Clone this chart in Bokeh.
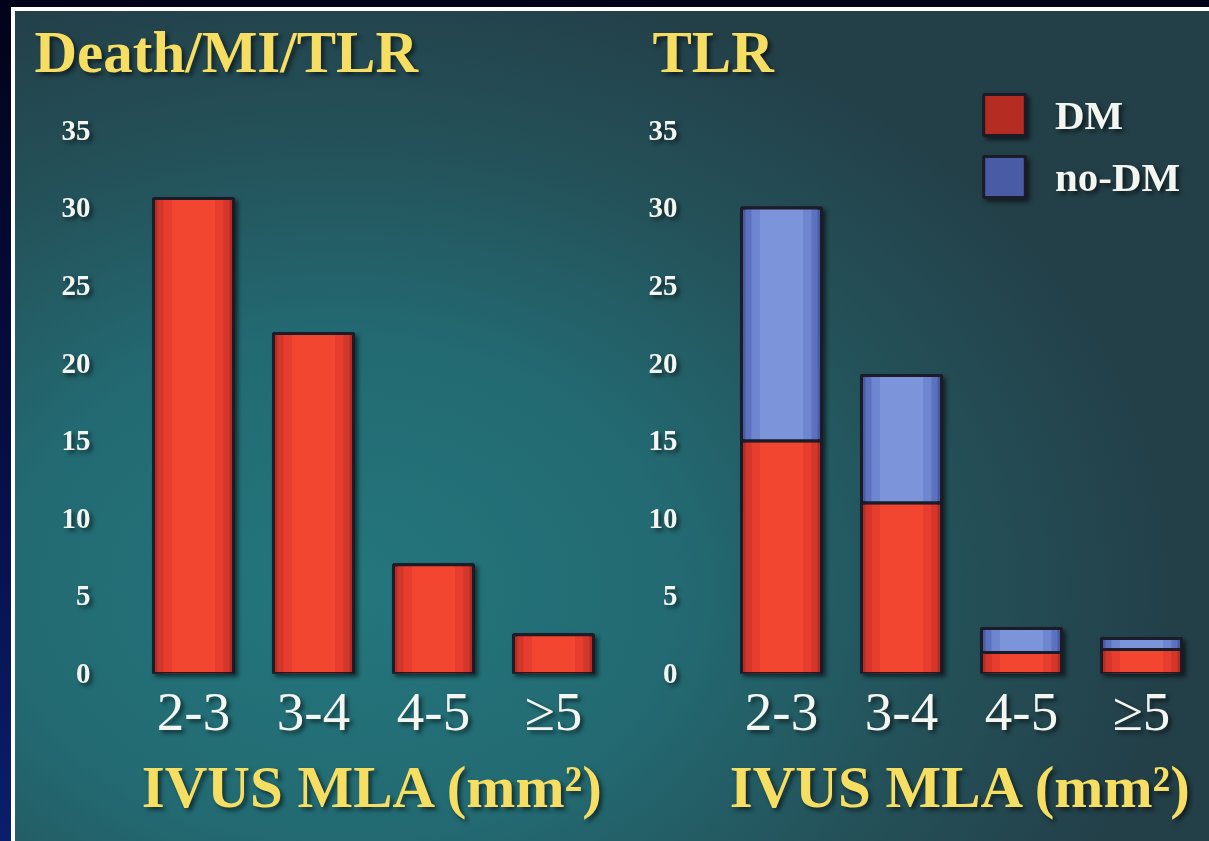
from bokeh.plotting import figure
from bokeh.layouts import row
from bokeh.models import (ColumnDataSource, FactorRange, Range1d, FixedTicker, Title,
                          Legend, LegendItem)
from bokeh.embed import file_html
from bokeh.resources import INLINE

# ---------------- data ----------------
categories = ["2-3", "3-4", "4-5", "≥5"]
death_mi_tlr = [30.6, 21.9, 7.0, 2.5]          # left panel (%)
tlr_dm = [15.0, 11.0, 1.35, 1.55]              # right panel, DM (%)
tlr_no_dm = [15.0, 8.2, 1.55, 0.7]             # right panel, no-DM (stacked on DM)
y_ticks = [0, 5, 10, 15, 20, 25, 30, 35]
left_title = "Death/MI/TLR"
right_title = "TLR"
x_title = "IVUS MLA (mm²)"

tlr_total = [a + b for a, b in zip(tlr_dm, tlr_no_dm)]

# ---------------- style ----------------
SERIF = "Liberation Serif"
YELLOW = "#f6de62"
WHITE = "#f2f5f0"
OUTLINE = "#1c1c28"
BW = 0.667
RED_LAYERS = [("#b42c22", BW), ("#d3362a", 0.60), ("#e63d2e", 0.50), ("#f24631", 0.36)]
BLUE_LAYERS = [("#4a5ba6", BW), ("#5d72bf", 0.60), ("#6e86cf", 0.50), ("#7c95da", 0.36)]

FIG_H = 841
TOP = 91
BOTTOM = 168
SHADOW = {"filter": "drop-shadow(3px 3px 2px rgba(0,0,0,0.55))"}


def make_fig(width, left_border, right_border, title_text, title_offset):
    p = figure(width=width, height=FIG_H, x_range=FactorRange(factors=categories),
               y_range=Range1d(0, 37.5), output_backend="svg", toolbar_location=None,
               min_border_left=left_border, min_border_right=right_border,
               min_border_top=TOP, min_border_bottom=BOTTOM, styles=SHADOW)
    p.background_fill_alpha = 0
    p.border_fill_alpha = 0
    p.outline_line_color = None
    p.grid.visible = False
    p.title.visible = False
    p.add_layout(Title(text=title_text, align="left", offset=title_offset,
                       text_font=SERIF, text_font_size="59px", text_font_style="bold",
                       text_color=YELLOW, standoff=14), "above")
    for ax in (p.xaxis[0], p.yaxis[0]):
        ax.axis_line_color = None
        ax.major_tick_line_color = None
        ax.minor_tick_line_color = None
    p.yaxis.ticker = FixedTicker(ticks=y_ticks)
    p.yaxis.major_label_text_font = SERIF
    p.yaxis.major_label_text_font_size = "29px"
    p.yaxis.major_label_text_font_style = "bold"
    p.yaxis.major_label_text_color = WHITE
    p.xaxis.major_label_text_font = SERIF
    p.xaxis.major_label_text_font_size = "55px"
    p.xaxis.major_label_text_color = WHITE
    p.xaxis.major_label_standoff = 1
    p.xaxis.axis_label = x_title
    p.xaxis.axis_label_text_font = SERIF
    p.xaxis.axis_label_text_font_size = "59px"
    p.xaxis.axis_label_text_font_style = "bold"
    p.xaxis.axis_label_text_color = YELLOW
    p.xaxis.axis_label_standoff = 9
    return p


def shaded_bars(p, src, bottom, top, layers):
    base = None
    for i, (col, w) in enumerate(layers):
        r = p.vbar(x="cat", bottom=bottom, top=top, width=w, source=src,
                   fill_color=col, line_color=OUTLINE if i == 0 else None,
                   line_width=3)
        if i == 0:
            base = r
    p.vbar(x="cat", bottom=bottom, top=top, width=BW, source=src,
           fill_color=None, line_color=OUTLINE, line_width=3)
    return base


# ---------------- left panel ----------------
p1 = make_fig(613, 133, 0, left_title, -99)
p1.yaxis.major_label_standoff = 37
src1 = ColumnDataSource(dict(cat=categories, v=death_mi_tlr))
shaded_bars(p1, src1, 0, "v", RED_LAYERS)

# ---------------- right panel ----------------
p2 = make_fig(596, 108, 8, right_title, -69)
p2.yaxis.major_label_standoff = 38
src2 = ColumnDataSource(dict(cat=categories, dm=tlr_dm, total=tlr_total))
r_dm = shaded_bars(p2, src2, 0, "dm", RED_LAYERS)
r_no = shaded_bars(p2, src2, "dm", "total", BLUE_LAYERS)

legend = Legend(items=[LegendItem(label="DM", renderers=[r_dm]),
                       LegendItem(label="no-DM", renderers=[r_no])],
                location=(257, 471), padding=0, margin=0, spacing=11,
                glyph_width=52, glyph_height=51, label_standoff=25,
                label_text_font=SERIF, label_text_font_size="41px",
                label_text_font_style="bold",
                label_text_color=WHITE, background_fill_alpha=0,
                border_line_color=None)
p2.add_layout(legend, "center")

layout = row(p1, p2, styles={
    "background": ", ".join([
        "linear-gradient(180deg, #02031a 0%, #06104a 60%, #0b1e6c 100%) left top / 11px 100% no-repeat",
        "linear-gradient(#02031a, #02031a) left top / 100% 7px no-repeat",
        "linear-gradient(#ffffff, #ffffff) left top / 15px 100% no-repeat",
        "linear-gradient(#ffffff, #ffffff) left top / 100% 11px no-repeat",
        "radial-gradient(ellipse 70% 75% at 28% 70%, #24767d 0%, #236a72 40%, #24525a 70%, #233f48 100%)",
    ]),
})

open("out.html", "w").write(file_html(layout, INLINE))
